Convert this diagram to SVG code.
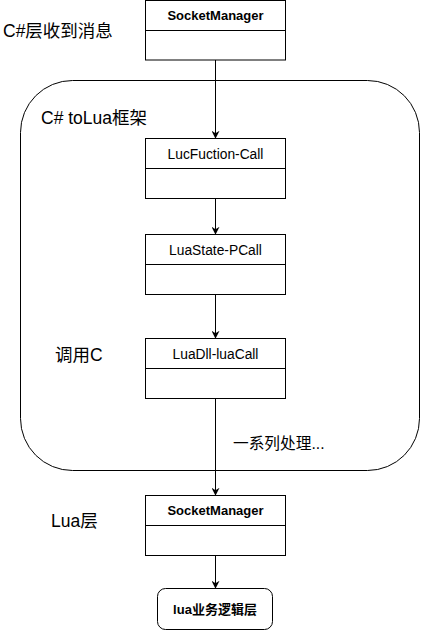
<svg xmlns="http://www.w3.org/2000/svg" width="421" height="631" viewBox="0 0 421 631">
<style>
.box{fill:#fff;stroke:#000;stroke-width:1}
.ln{fill:none;stroke:#000;stroke-width:1}
.t{font-family:"Liberation Sans",Arial,"Noto Sans CJK SC",sans-serif;font-size:13.8px;fill:#000;text-anchor:middle}
.b{font-weight:bold;font-size:13px}
.lbl{font-family:"Liberation Sans",Arial,"Noto Sans CJK SC",sans-serif;font-size:17.5px;fill:#000}
.lbl2{font-family:"Liberation Sans",Arial,"Noto Sans CJK SC",sans-serif;font-size:15.7px;fill:#000}
</style>
<defs>
<marker id="arr" viewBox="0 0 10 10" refX="9" refY="5" markerWidth="8" markerHeight="8" markerUnits="userSpaceOnUse" orient="auto">
<path d="M0,0 L10,5 L0,10 L3,5 Z" fill="#000"/>
</marker>
</defs>
<rect width="421" height="631" fill="#fff"/>
<g id="container">
<rect x="20.5" y="80.5" width="399" height="390" rx="52" ry="52" class="ln"/>
</g>
<g id="connectors">
<line x1="215.5" y1="60" x2="215.5" y2="138" class="ln" marker-end="url(#arr)"/>
<line x1="215.5" y1="198" x2="215.5" y2="234" class="ln" marker-end="url(#arr)"/>
<line x1="215.5" y1="294" x2="215.5" y2="338" class="ln" marker-end="url(#arr)"/>
<line x1="215.5" y1="398" x2="215.5" y2="495" class="ln" marker-end="url(#arr)"/>
<line x1="215.5" y1="555" x2="215.5" y2="588" class="ln" marker-end="url(#arr)"/>
</g>
<g id="n1">
<rect x="145.5" y="0.5" width="140" height="59.5" class="box"/>
<line x1="145.5" y1="30.5" x2="285.5" y2="30.5" class="ln"/>
<text x="215.5" y="20" class="t b">SocketManager</text>
</g>
<g id="n2">
<rect x="145.5" y="138.5" width="140" height="60" class="box"/>
<line x1="145.5" y1="168.5" x2="285.5" y2="168.5" class="ln"/>
<text x="215.5" y="158.5" class="t">LucFuction-Call</text>
</g>
<g id="n3">
<rect x="145.5" y="234.5" width="140" height="60" class="box"/>
<line x1="145.5" y1="264.5" x2="285.5" y2="264.5" class="ln"/>
<text x="215.5" y="254.5" class="t">LuaState-PCall</text>
</g>
<g id="n4">
<rect x="145.5" y="338.5" width="140" height="60" class="box"/>
<line x1="145.5" y1="368.5" x2="285.5" y2="368.5" class="ln"/>
<text x="215.5" y="358.5" class="t">LuaDll-luaCall</text>
</g>
<g id="n5">
<rect x="145.5" y="495.5" width="140" height="60" class="box"/>
<line x1="145.5" y1="525.5" x2="285.5" y2="525.5" class="ln"/>
<text x="215.5" y="515" class="t b">SocketManager</text>
</g>
<g id="n6">
<rect x="157.5" y="588.5" width="115" height="41" rx="8" ry="8" class="box"/>
<text x="215" y="614" class="t b">lua业务逻辑层</text>
</g>
<g id="labels">
<text x="3" y="37" class="lbl">C#层收到消息</text>
<text x="41" y="124" class="lbl">C# toLua框架</text>
<text x="55" y="361" class="lbl">调用C</text>
<text x="233" y="449" class="lbl2">一系列处理...</text>
<text x="51" y="527" class="lbl">Lua层</text>
</g>
</svg>
